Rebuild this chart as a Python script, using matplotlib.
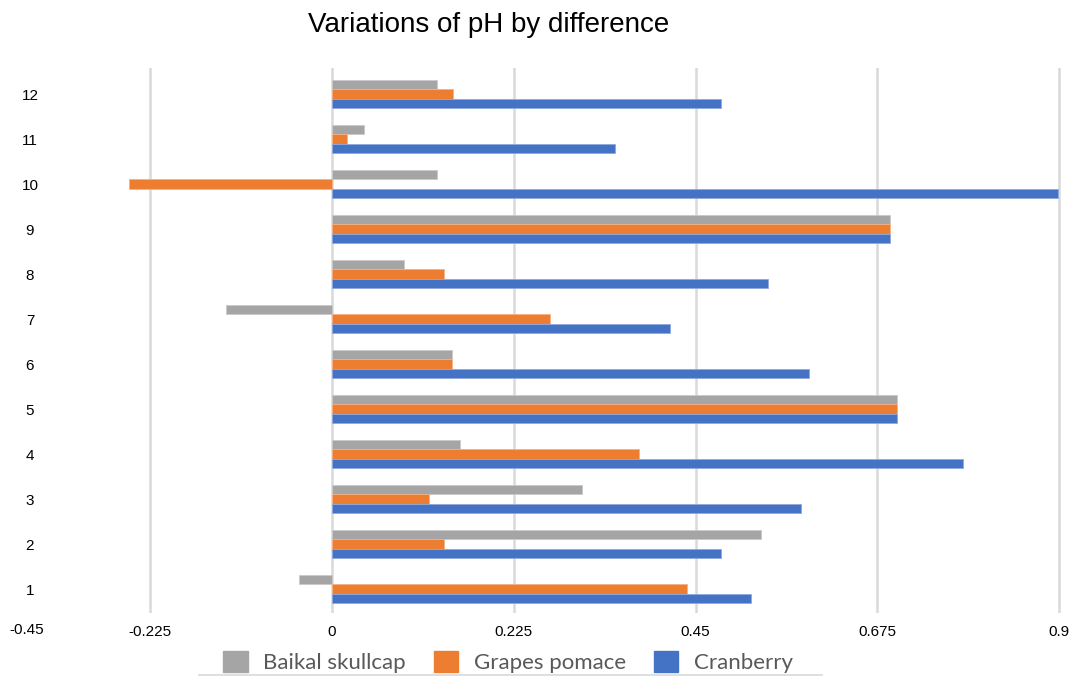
import matplotlib
matplotlib.use("Agg")
import matplotlib.pyplot as plt
from matplotlib.patches import Patch
from matplotlib.lines import Line2D
import numpy as np

categories = ["1", "2", "3", "4", "5", "6", "7", "8", "9", "10", "11", "12"]
baikal_skullcap = [-0.041, 0.531, 0.310, 0.159, 0.700, 0.149, -0.131, 0.089, 0.691, 0.130, 0.040, 0.130]
grapes_pomace = [0.440, 0.139, 0.120, 0.380, 0.700, 0.149, 0.270, 0.139, 0.691, -0.251, 0.019, 0.150]
cranberry = [0.519, 0.481, 0.581, 0.781, 0.700, 0.590, 0.419, 0.540, 0.691, 0.899, 0.350, 0.481]
x_ticks = [-0.225, 0, 0.225, 0.45, 0.675, 0.9]
x_tick_labels = ["-0.225", "0", "0.225", "0.45", "0.675", "0.9"]
x_min_label = "-0.45"

series = [
    ("Baikal skullcap", baikal_skullcap, "#A5A5A5", "#C9C9C9"),
    ("Grapes pomace", grapes_pomace, "#ED7D31", "#F4B183"),
    ("Cranberry", cranberry, "#4472C4", "#8FAADC"),
]

W, H = 1073, 677
fig = plt.figure(figsize=(W / 100, H / 100), dpi=100)
fig.patch.set_facecolor("white")

# axes geometry in pixels
ax_left, ax_right = 55, 1068
ax_top, ax_bottom = 68, 613
ax = fig.add_axes([ax_left / W, 1 - ax_bottom / H,
                   (ax_right - ax_left) / W, (ax_bottom - ax_top) / H])

# x scale: zero at 332 px, 0.9 at 1059 px
px_per_unit = (1059 - 332) / 0.9
x_lo = (ax_left - 332) / px_per_unit
x_hi = (ax_right - 332) / px_per_unit
ax.set_xlim(x_lo, x_hi)
ax.set_ylim(0.467, 12.578)

pos = np.arange(1, len(categories) + 1)
bar_h = 0.21
offsets = [bar_h, 0.0, -bar_h]
for (name, vals, color, edge), off in zip(series, offsets):
    ax.barh(pos + off, vals, height=bar_h, color=color, edgecolor=edge,
            linewidth=0.6, zorder=3, label=name)

ax.set_xticks(x_ticks)
ax.set_xticklabels(x_tick_labels)
ax.set_yticks(pos)
ax.set_yticklabels(categories)

label_font = dict(family="Liberation Sans", size=11, color="#000000")
for lbl in ax.get_xticklabels() + ax.get_yticklabels():
    lbl.set_fontfamily("Liberation Sans")
    lbl.set_fontsize(11)
for lbl in ax.get_yticklabels():
    lbl.set_horizontalalignment("center")
ax.tick_params(axis="y", length=0, pad=18)
ax.tick_params(axis="x", length=0, pad=9)

ax.grid(axis="x", color="#D9D9D9", linewidth=1.8, zorder=0)
ax.grid(axis="y", visible=False)
for s in ax.spines.values():
    s.set_visible(False)

# leftmost axis value
fig.text(27 / W, 1 - 630 / H, x_min_label, ha="center", va="center", **label_font)

# title
fig.text(489 / W, 1 - 32 / H, "Variations of pH by difference", ha="center",
         va="baseline", family="Liberation Sans", size=20, color="#000000")

# legend
handles = [Patch(facecolor=c, edgecolor=c) for _, _, c, _ in series]
names = [n for n, _, _, _ in series]
leg = fig.legend(handles, names, loc="center", bbox_to_anchor=(508 / W, 1 - 662 / H),
                 ncol=3, frameon=False, prop=dict(family="Lato", size=16),
                 handlelength=1.1, handleheight=1.1, handletextpad=0.7,
                 columnspacing=1.25, labelcolor="#595959")

fig.add_artist(Line2D([199 / W, 822 / W], [1 - 675 / H, 1 - 675 / H],
                      transform=fig.transFigure, color="#D9D9D9", linewidth=1.2))

fig.savefig("out.png", dpi=100)
